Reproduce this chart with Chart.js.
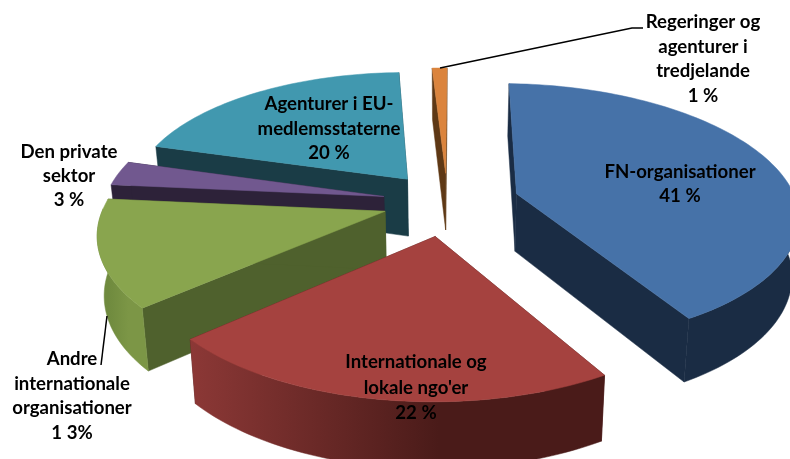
<!DOCTYPE html>
<html>
<head>
<meta charset="utf-8">
<title>Fordeling</title>
<script src="https://cdn.jsdelivr.net/npm/chart.js@4"></script>
<style>
  html, body { margin: 0; padding: 0; background: #fff; }
  canvas { display: block; }
</style>
</head>
<body>
<canvas id="pieChart" width="790" height="459"></canvas>
<script>
const categories = ['FN-organisationer', 'Internationale og lokale ngo\'er', 'Andre internationale organisationer', 'Den private sektor', 'Agenturer i EU-medlemsstaterne', 'Regeringer og agenturer i tredjelande'];
const shares = [41, 22, 13, 3, 20, 1];
const labelLines = [
    ['FN-organisationer', '41 %'],
    ['Internationale og', 'lokale ngo\'er', '22 %'],
    ['Andre', 'internationale', 'organisationer', '1 3%'],
    ['Den private', 'sektor', '3 %'],
    ['Agenturer i EU-', 'medlemsstaterne', '20 %'],
    ['Regeringer og', 'agenturer i', 'tredjelande', '1 %']
];

// styling
const topColors = ['#4672a8', '#a5423f', '#89a54e', '#71588f', '#4198af', '#db843d'];
const wallColors = ['#1a2c44', '#4a1c1a', '#4f612d', '#2d2239', '#1a3c46', '#5e3815'];
const rimStops = [['#1a2c44', '#1a2c44'], ['#8c3836', '#4a1b19'], ['#6f8a3e', '#7c9646'], ['#2d2239', '#2d2239'], ['#1a3c46', '#1a3c46'], ['#5e3815', '#5e3815']];
const explode = [0.26, 0.26, 0.23, 0.23, 0.23, 0.23];
const labelAnchors = [[680, 172], [416, 362], [72, 359], [69, 152], [329, 104], [703, 22]];
const lineHeights = [24, 25.5, 24.6, 24, 24.5, 24.5];
const leaders = [[[440, 68], [632, 28], [643, 28]], [[107, 316], [101, 365]]];

// camera used for the tilted pie, backSkew pulls the far half to the left
const view = { cx: 447, cy: 202, rx: 280, ry: 129, persp: 0.15, depth: 58, shrink: 0.98, backSkew: 6 };

function project(u, v) {
    const s = 1 / (1 - view.persp * v);
    return { x: view.cx + view.rx * u * s + view.backSkew * Math.min(v, 0), y: view.cy + view.ry * v * s, s: s };
}
function drop(p) {
    return { x: view.cx + (p.x - view.cx) * view.shrink, y: p.y + view.depth * Math.pow(p.s, 0.7) };
}
function poly(ctx, pts, fill) {
    ctx.beginPath();
    pts.forEach((p, i) => i ? ctx.lineTo(p.x, p.y) : ctx.moveTo(p.x, p.y));
    ctx.closePath();
    ctx.fillStyle = fill;
    ctx.fill();
    ctx.strokeStyle = fill;
    ctx.lineWidth = 0.5;
    ctx.stroke();
}

const tiltedPie = {
    id: 'tiltedPie',
    beforeDatasetDraw(chart, args) {
        const ctx = chart.ctx;
        const arcs = chart.getDatasetMeta(args.index).data;
        const slices = arcs.map((arc, i) => {
            const mid = (arc.startAngle + arc.endAngle) / 2;
            return { i, arc, ou: explode[i] * Math.cos(mid), ov: explode[i] * Math.sin(mid) };
        });
        // back slices first so the front ones cover them
        slices.sort((a, b) => a.ov / explode[a.i] - b.ov / explode[b.i]);
        slices.forEach(({ i, arc, ou, ov }) => {
            const steps = Math.max(4, Math.ceil((arc.endAngle - arc.startAngle) * 40));
            const rim = [];
            const rimAngles = [];
            for (let k = 0; k <= steps; k++) {
                const a = arc.startAngle + (arc.endAngle - arc.startAngle) * k / steps;
                rim.push(project(ou + Math.cos(a), ov + Math.sin(a)));
                rimAngles.push(a);
            }
            const apex = project(ou, ov);
            const first = rim[0];
            const last = rim[rim.length - 1];
            poly(ctx, [apex, first, drop(first), drop(apex)], wallColors[i]);
            poly(ctx, [apex, last, drop(last), drop(apex)], wallColors[i]);
            // outer wall, only the part turned to the viewer
            const front = rim.filter((p, k) => Math.sin(rimAngles[k]) > -0.02);
            if (front.length > 1) {
                const g = ctx.createLinearGradient(Math.min(first.x, last.x), 0, Math.max(first.x, last.x), 0);
                g.addColorStop(0, rimStops[i][0]);
                g.addColorStop(0.6, rimStops[i][1]);
                g.addColorStop(1, rimStops[i][1]);
                poly(ctx, front.concat(front.slice().reverse().map(drop)), g);
            }
            poly(ctx, [apex].concat(rim), topColors[i]);
        });
        return false;
    },
    afterDatasetsDraw(chart) {
        const ctx = chart.ctx;
        ctx.save();
        ctx.strokeStyle = '#000';
        ctx.lineWidth = 1.5;
        leaders.forEach(line => {
            ctx.beginPath();
            line.forEach((p, i) => i ? ctx.lineTo(p[0], p[1]) : ctx.moveTo(p[0], p[1]));
            ctx.stroke();
        });
        ctx.fillStyle = '#000';
        ctx.font = 'bold 18.6px Lato';
        ctx.textAlign = 'center';
        ctx.textBaseline = 'middle';
        labelLines.forEach((lines, i) => {
            lines.forEach((text, k) => {
                ctx.fillText(text, labelAnchors[i][0], labelAnchors[i][1] + k * lineHeights[i]);
            });
        });
        ctx.restore();
    }
};

const chart = new Chart(document.getElementById('pieChart').getContext('2d'), {
    type: 'pie',
    data: {
        labels: categories,
        datasets: [{ data: shares, backgroundColor: topColors, borderWidth: 0 }]
    },
    options: {
        responsive: false,
        animation: false,
        rotation: 1.8,
        plugins: { legend: { display: false }, tooltip: { enabled: false } }
    },
    plugins: [tiltedPie]
});
</script>
</body>
</html>
